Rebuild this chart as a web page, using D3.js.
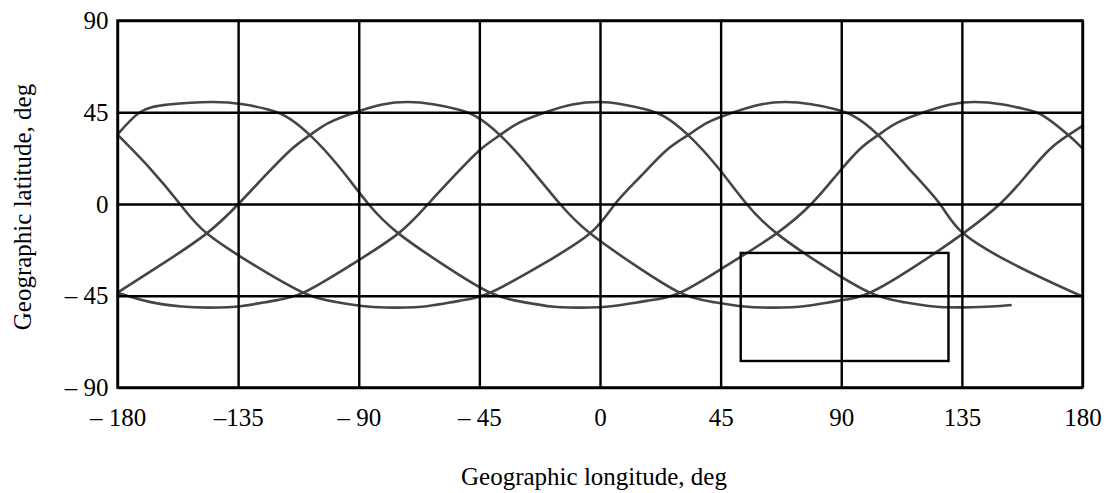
<!DOCTYPE html>
<html>
<head>
<meta charset="utf-8">
<script src="https://cdn.jsdelivr.net/npm/d3@7"></script>
<style>
  body { margin: 0; background: #fff; }
  text { font-family: "Liberation Serif", "Times New Roman", serif; }
</style>
</head>
<body>
<svg id="chart" width="1108" height="493"></svg>
<script>
// tick values / labels
const lonTicks = [-180, -135, -90, -45, 0, 45, 90, 135, 180];
const lonLabels = ['\u2013 180', '\u2013135', '\u2013 90', '\u2013 45', '0', '45', '90', '135', '180'];
const latTicks = [-90, -45, 0, 45, 90];
const latLabels = ['\u2013 90', '\u2013 45', '0', '45', '90'];

// ground tracks, [longitude, latitude]
const trackA = [[-180, -43.5], [-164, -30], [-146.7, -14.4], [-134.9, 0], [-125.2, 13.5], [-115.4, 26.5],
  [-108.2, 33.8], [-101.2, 39.8], [-91.2, 45], [-81.2, 48.8], [-71.5, 50], [-62.3, 48.9], [-53.3, 46.5],
  [-46.3, 43], [-37.3, 33.8], [-26.3, 18], [-14.9, 0], [-3.7, -14.4], [13, -30], [29.8, -43.5],
  [41.8, -48], [53.8, -50.3], [64.8, -50.8], [76.8, -50], [88.8, -47.5], [100.7, -43.5], [118.2, -30],
  [135.5, -14.4], [149.2, 0], [158.7, 13.5], [167.5, 26.5], [174.7, 33.8], [180, 38.3]];
const trackB = [[-180, -43.5], [-168, -48], [-156, -50.3], [-145.5, -50.8], [-133.5, -50], [-122, -47.5],
  [-110.7, -43.5], [-93, -30], [-75.2, -14.4], [-64.1, 0], [-54.6, 13.5], [-44.8, 26.5], [-37.3, 33.8],
  [-30.3, 39.8], [-20.3, 45], [-10.3, 48.8], [0, 50], [8, 48.9], [16.9, 46.5], [23.9, 43], [32.9, 33.8],
  [43.9, 18], [54.7, 0], [65.9, -14.4], [83, -30], [100.7, -43.5], [112.7, -48], [124.7, -50.3],
  [136, -50.7], [146, -50.3], [153.6, -49.5]];
const trackC = [[-180, 34], [-171.6, 45], [-161, 48.8], [-145, 50], [-133.2, 48.9], [-124.2, 46.5],
  [-117.2, 43], [-108.2, 33.8], [-97.2, 18], [-86.4, 0], [-75.2, -14.4], [-58.2, -30], [-41, -43.5],
  [-29, -48], [-18, -50.3], [-7.5, -50.8], [5, -50], [17.5, -47.5], [29.8, -43.5], [47.5, -30],
  [65.9, -14.4], [78.8, 0], [87.8, 13.5], [96.6, 26.5], [103.8, 33.8], [110.8, 39.8], [120.8, 45],
  [130.8, 48.8], [140, 50], [149.7, 48.9], [158.7, 46.5], [165.7, 43], [174.7, 33.8], [180, 27.3]];
const trackD = [[-180, 34], [-167.9, 17.5], [-156.7, 0], [-146.7, -14.4], [-129, -30], [-110.7, -43.5],
  [-98.7, -48], [-86.7, -50.3], [-75.8, -50.8], [-64, -50], [-52.5, -47.5], [-41, -43.5], [-22, -30],
  [-3.7, -14.4], [5.6, 0], [15.1, 13.5], [24.9, 26.5], [32.9, 33.8], [39.9, 39.8], [49.9, 45],
  [59.9, 48.8], [69.2, 50], [78.8, 48.9], [87.8, 46.5], [94.8, 43], [103.8, 33.8], [114.8, 18],
  [126.8, 0], [135.5, -14.4], [155, -30], [180, -45.4]];
const tracks = [trackA, trackB, trackC, trackD];

// highlighted region (lon from/to, lat from/to)
const boxLon = [52.5, 130];
const boxLat = [-77, -24];

const svg = d3.select('#chart');
const plotL = 117.5, plotR = 1082.5, plotT = 20.5, plotB = 387.5;

const x = d3.scaleLinear().domain([-180, 180]).range([plotL, plotR]);
const y = d3.scaleLinear().domain([-90, 90]).range([plotB, plotT]);

// curves
const line = d3.line()
  .x(d => x(d[0]))
  .y(d => y(d[1]))
  .curve(d3.curveNatural);

svg.append('g').selectAll('path')
  .data(tracks)
  .join('path')
  .attr('d', line)
  .attr('fill', 'none')
  .attr('stroke', '#454545')
  .attr('stroke-width', 2.6);

// grid + labels via axes
const xAxis = d3.axisBottom(x)
  .tickValues(lonTicks)
  .tickSize(plotB - plotT)
  .tickPadding(21)
  .tickFormat((d, i) => lonLabels[i]);

const gx = svg.append('g')
  .attr('transform', `translate(0,${plotT})`)
  .call(xAxis);
gx.select('.domain').remove();
gx.selectAll('line').attr('stroke', '#000').attr('stroke-width', 2.4);
gx.selectAll('text')
  .attr('fill', '#000')
  .attr('font-size', '25px')
  .attr('font-family', '"Liberation Serif", "Times New Roman", serif');

const yAxis = d3.axisLeft(y)
  .tickValues(latTicks)
  .tickSize(-(plotR - plotL))
  .tickPadding(9)
  .tickFormat((d, i) => latLabels[i]);

const gy = svg.append('g')
  .attr('transform', `translate(${plotL},0)`)
  .call(yAxis);
gy.select('.domain').remove();
gy.selectAll('line').attr('stroke', '#000').attr('stroke-width', 2.4);
gy.selectAll('text')
  .attr('fill', '#000')
  .attr('font-size', '25px')
  .attr('font-family', '"Liberation Serif", "Times New Roman", serif');

// frame
svg.append('rect')
  .attr('x', plotL)
  .attr('y', plotT)
  .attr('width', plotR - plotL)
  .attr('height', plotB - plotT)
  .attr('fill', 'none')
  .attr('stroke', '#000')
  .attr('stroke-width', 2.4);

// box
svg.append('rect')
  .attr('x', x(boxLon[0]))
  .attr('y', y(boxLat[1]))
  .attr('width', x(boxLon[1]) - x(boxLon[0]))
  .attr('height', y(boxLat[0]) - y(boxLat[1]))
  .attr('fill', 'none')
  .attr('stroke', '#000')
  .attr('stroke-width', 2.4);

// axis titles
svg.append('text')
  .attr('x', 594)
  .attr('y', 485)
  .attr('text-anchor', 'middle')
  .attr('font-size', '25px')
  .text('Geographic longitude, deg');

svg.append('text')
  .attr('transform', 'translate(31,207) rotate(-90)')
  .attr('text-anchor', 'middle')
  .attr('font-size', '25px')
  .text('Geographic latitude, deg');
</script>
</body>
</html>
